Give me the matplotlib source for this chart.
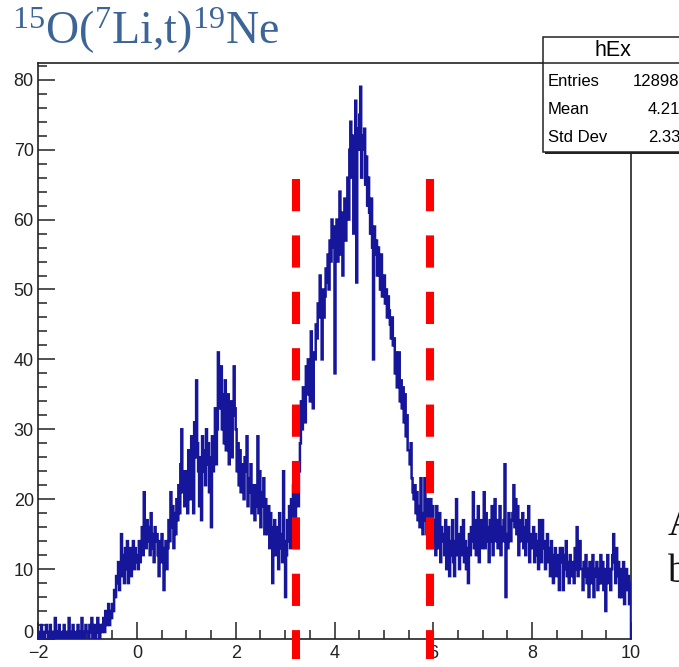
import numpy as np
import matplotlib
matplotlib.use("Agg")
import matplotlib.pyplot as plt
from matplotlib.patches import Rectangle
from matplotlib.lines import Line2D
from matplotlib.ticker import MultipleLocator, FuncFormatter

plt.rcParams["font.family"] = ["Liberation Sans", "DejaVu Sans"]
plt.rcParams["mathtext.fontset"] = "custom"
plt.rcParams["mathtext.rm"] = "Liberation Serif"
plt.rcParams["mathtext.default"] = "regular"

# Excitation-energy histogram hEx: range (MeV) and counts per 0.02 MeV bin
x_lo, x_hi = -2.0, 10.0
counts = [
    # -2 .. -1
    0, 1, 0, 2, 1, 0, 0, 1, 2, 1, 0, 0, 2, 1, 0, 1, 0, 3, 1, 0,
    1, 2, 0, 0, 1, 0, 2, 1, 0, 0, 1, 3, 0, 1, 0, 2, 0, 1, 1, 0,
    2, 0, 1, 0, 3, 1, 0, 0, 2, 1,
    # -1 .. 0
    1, 0, 2, 1, 3, 0, 1, 2, 0, 1, 3, 1, 0, 2, 1,
    2, 3, 1, 4, 2, 3, 5, 2, 4, 3,
    5, 4, 7, 6, 9, 8, 11, 7, 10, 15,
    9, 12, 8, 13, 10, 14, 8, 11, 13, 9, 12, 14, 10, 13, 11,
    # 0 .. 1
    12, 10, 14, 11, 13,
    16, 12, 21, 15, 13,
    17, 14, 16, 12, 18, 13, 15, 11, 16, 14,
    15, 12, 9, 14, 11, 15, 13, 7, 12, 14, 10, 13,
    17, 14, 21, 16, 19, 13, 18, 15, 20, 17,
    22, 18, 25, 30, 21, 24, 19, 23,
    # 1 .. 2
    24, 18, 27, 22, 20, 29, 25, 18, 31, 26,
    37, 28, 24, 19, 26,
    17, 29, 24, 27, 22, 30, 25, 28, 21, 26,
    16, 29, 24, 27, 33, 25, 30,
    41, 33, 36, 39, 30, 35, 28, 37,
    27, 31, 35, 25, 30, 34, 26, 32, 39, 33,
    # 2 .. 3
    30, 24, 28, 22, 27, 21, 25, 23, 20, 26,
    24, 29, 19, 23, 21, 25, 18, 22, 20, 17,
    22, 19, 29, 18, 24, 16, 21, 19, 23, 15,
    20, 17, 15, 19, 13, 18, 16, 8, 14, 17,
    12, 16, 14, 10, 18, 13, 15, 11, 24, 14,
    # 3 .. 4
    6, 12, 17, 14, 19, 13, 20, 16, 22, 18,
    15, 21, 25, 19, 24, 28, 34, 30, 36, 32,
    31, 39, 35, 40, 36, 34, 44, 38, 33, 41,
    40, 45, 43, 48, 46, 52, 47, 40, 50, 46,
    49, 53, 51, 55, 50, 57, 54, 60, 56, 59,
    # 4 .. 5
    38, 56, 60, 54, 58, 64, 55, 61, 52, 59,
    63, 57, 62, 66, 60, 70, 74, 66, 72, 58,
    68, 77, 51, 73, 70, 75, 79, 66, 72, 70,
    73, 65, 69, 62, 66, 61, 58, 63, 56, 40,
    59, 55, 57, 52, 56, 54, 50, 55, 49, 52,
    # 5 .. 6
    52, 48, 50, 46, 49, 47, 45, 43, 46, 42,
    43, 38, 41, 36, 40, 41, 34, 37, 33, 36,
    31, 35, 29, 32, 27, 27, 25, 28, 23, 21,
    20, 22, 18, 21, 17, 19, 16, 23, 18, 15,
    17, 23, 19, 15, 20, 18, 14, 20, 16, 19,
    # 6 .. 7
    14, 17, 12, 19, 15, 13, 18, 11, 16, 14,
    15, 12, 17, 10, 13, 16, 9, 14, 12, 17,
    11, 9, 14, 20, 12, 15, 10, 13, 16, 12,
    17, 11, 14, 10, 13, 8, 15, 12, 16, 14,
    21, 13, 17, 12, 15, 19, 11, 14, 17, 13,
    # 7 .. 8
    15, 21, 13, 18, 14, 16, 11, 17, 14, 19,
    12, 16, 20, 14, 17, 13, 15, 19, 12, 16,
    14, 17, 25, 6, 15, 13, 18, 16, 14, 17,
    18, 22, 16, 20, 15, 19, 12, 17, 14, 16,
    18, 13, 16, 12, 17, 14, 19, 11, 15, 13,
    # 8 .. 9
    13, 16, 11, 15, 12, 14, 10, 17, 13, 11,
    17, 13, 14, 10, 12, 15, 11, 13, 9, 14,
    12, 8, 11, 13, 9, 12, 10, 7, 13, 11,
    13, 7, 12, 10, 14, 9, 11, 8, 12, 10,
    9, 11, 8, 13, 10, 16, 9, 12, 14, 10,
    # 9 .. 10
    10, 7, 11, 9, 12, 8, 10, 6, 11, 9,
    8, 12, 6, 10, 9, 11, 7, 10, 8, 12,
    8, 11, 7, 10, 4, 9, 12, 8, 10, 7,
    10, 12, 15, 11, 8, 13, 9, 11, 6, 10,
    6, 9, 11, 5, 8, 10, 7, 9, 5, 8,
]

# Gate boundaries (MeV) and the height range of the gate markers
gate_edges = [3.23, 5.94]
gate_top, gate_bottom = 65.8, -2.8

# Statistics box contents
stats_title = "hEx"
stats_names = ["Entries", "Mean", "Std Dev"]
stats_values = ["12898", "4.211", "2.33"]

title_text = r"$^{15}$O($^{7}$Li,t)$^{19}$Ne"
side_text = ["A", "b"]

W, H = 679, 667
fig = plt.figure(figsize=(W / 100, H / 100), dpi=100)


def fx(px):
    return px / W


def fy(py):
    return 1 - py / H


ax = fig.add_axes([fx(38), fy(639), fx(631) - fx(38), fy(63) - fy(639)])
edges = np.linspace(x_lo, x_hi, len(counts) + 1)
ax.stairs(counts, edges, baseline=0, color="#16169a", linewidth=1.8, zorder=3)

for xg in gate_edges:
    ax.plot([xg, xg], [gate_top, gate_bottom], color="#ff0000", linewidth=5.8,
            linestyle=(0, (4, 3)), solid_capstyle="butt", clip_on=False, zorder=4)

ax.set_xlim(x_lo, x_hi)
ax.set_ylim(0, 82.4)
ax.xaxis.set_major_locator(MultipleLocator(2))
ax.xaxis.set_minor_locator(MultipleLocator(0.5))
ax.yaxis.set_major_locator(MultipleLocator(10))
ax.yaxis.set_minor_locator(MultipleLocator(2))
# The y-axis zero is labelled separately, slightly raised above the x labels
ax.yaxis.set_major_formatter(FuncFormatter(lambda v, _: "" if v == 0 else f"{v:g}"))
ax.tick_params(which="both", direction="in", top=False, right=False,
               colors="#222222", width=1.1, labelsize=13)
ax.tick_params(which="major", length=12.2)
ax.tick_params(which="minor", length=6.2)
ax.tick_params(axis="x", pad=4)
ax.tick_params(axis="y", pad=3)
for sp in ax.spines.values():
    sp.set_linewidth(1.2)
    sp.set_color("#222222")
ax.annotate("0", xy=(0, 0), xycoords="axes fraction", xytext=(-3.5, 4),
            textcoords="offset points", ha="right", va="center",
            fontsize=13, color="#222222")

# Reaction label in the upper left
fig.text(fx(12), fy(44), title_text, color="#3c6496", fontsize=33,
         family="Liberation Serif", va="baseline", ha="left")

# Statistics box (extends past the right edge)
bx0, by0, bx1, by1 = 543, 37, 720, 152
fig.patches.append(Rectangle((fx(bx0 + 2), fy(by1 + 2)), fx(bx1) - fx(bx0),
                             fy(by0) - fy(by1), transform=fig.transFigure,
                             facecolor="#222222", edgecolor="none", zorder=5))
fig.patches.append(Rectangle((fx(bx0), fy(by1)), fx(bx1) - fx(bx0),
                             fy(by0) - fy(by1), transform=fig.transFigure,
                             facecolor="white", edgecolor="#222222",
                             linewidth=1.1, zorder=6))
fig.lines.append(Line2D([fx(bx0), fx(bx1)], [fy(63), fy(63)],
                        transform=fig.transFigure, color="#222222",
                        linewidth=1.1, zorder=7))
fig.text(fx(613), fy(51), stats_title, fontsize=15.5, ha="center", va="center",
         zorder=8)
row_y = [82, 110, 138]
value_x = [633, 648, 648]
for name, val, ry, vx in zip(stats_names, stats_values, row_y, value_x):
    fig.text(fx(548), fy(ry), name, fontsize=12, ha="left", va="center", zorder=8)
    fig.text(fx(vx), fy(ry), val, fontsize=12, ha="left", va="center", zorder=8)

# Slide text continuing past the right edge
for t, yb in zip(side_text, [535, 582]):
    fig.text(fx(668), fy(yb), t, fontsize=28, family="Liberation Serif",
             ha="left", va="baseline", color="#111111")

fig.savefig("out.png", dpi=100)
